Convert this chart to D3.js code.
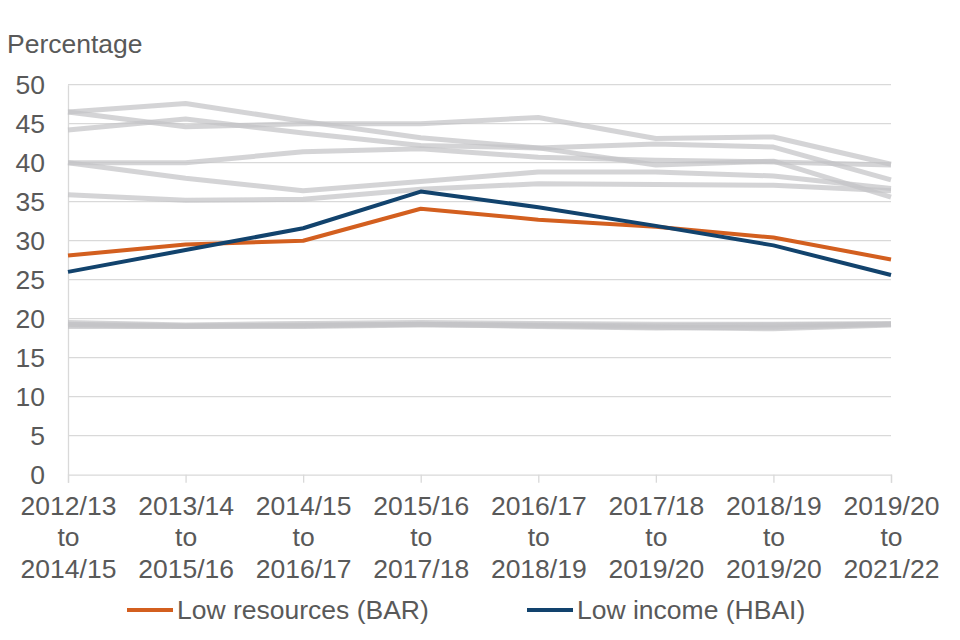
<!DOCTYPE html>
<html><head><meta charset="utf-8">
<script src="https://cdn.jsdelivr.net/npm/d3@7"></script>
<style>body{margin:0;background:#fff}svg{display:block}text{font-family:"Liberation Sans",Arial,sans-serif}</style>
</head><body><svg id="c" width="960" height="640"></svg>
<script>
const categories = [
  ["2012/13","to","2014/15"],["2013/14","to","2015/16"],["2014/15","to","2016/17"],
  ["2015/16","to","2017/18"],["2016/17","to","2018/19"],["2017/18","to","2019/20"],
  ["2018/19","to","2019/20"],["2019/20","to","2021/22"]];
const bar  = [28.1, 29.5, 30.0, 34.1, 32.7, 31.8, 30.4, 27.6];
const hbai = [26.0, 28.8, 31.6, 36.3, 34.3, 31.9, 29.4, 25.6];
const greyT = [46.5, 47.6, 45.3, 43.2, 41.9, 39.7, 40.2, 35.6];
const greyU = [46.5, 44.6, 45.0, 45.0, 45.8, 43.1, 43.3, 39.8];
const greyV = [44.2, 45.6, 43.8, 42.2, 41.9, 42.4, 42.0, 37.8];
const greyW = [40.0, 40.0, 41.4, 41.8, 40.7, 40.3, 40.1, 39.7];
const greyX = [40.0, 38.0, 36.4, 37.6, 38.8, 38.8, 38.3, 36.7];
const greyY = [35.9, 35.2, 35.3, 36.6, 37.3, 37.2, 37.1, 36.4];
const greyL1 = [19.5, 19.2, 19.4, 19.5, 19.4, 19.3, 19.3, 19.4];
const greyL2 = [19.3, 19.1, 19.1, 19.3, 19.2, 19.1, 19.2, 19.3];
const greyL3 = [19.0, 19.0, 19.0, 19.2, 19.1, 18.9, 18.7, 19.2];
const greyL4 = [19.2, 19.0, 19.2, 19.3, 19.0, 18.8, 18.9, 19.3];
const yTicks = [0,5,10,15,20,25,30,35,40,45,50];
const greySeries = [greyT, greyU, greyV, greyW, greyX, greyY, greyL1, greyL2, greyL3, greyL4];
const mainSeries = [
  {name:"Low resources (BAR)", values:bar, color:"#d35f1f"},
  {name:"Low income (HBAI)", values:hbai, color:"#12436d"}];

const svg = d3.select("#c");
const x = d3.scalePoint().domain(d3.range(categories.length)).range([68, 891]);
const y = d3.scaleLinear().domain([0, 50]).range([474.7, 84.7]);
const textCol = "#595959";
const fs = 26.5;

svg.append("g").selectAll("line").data(yTicks.filter(d=>d>0)).join("line")
  .attr("x1", 68).attr("x2", 891).attr("y1", d=>y(d)).attr("y2", d=>y(d))
  .attr("stroke", "#d9d9d9").attr("stroke-width", 1.3);

const yAxis = svg.append("g").attr("transform","translate(68,0)")
  .call(d3.axisLeft(y).tickValues(yTicks).tickSize(0).tickPadding(23));
yAxis.select(".domain").attr("stroke","#d9d9d9").attr("stroke-width",1.3);
yAxis.selectAll("text").attr("font-size", fs).attr("fill", textCol).attr("font-family","Liberation Sans, Arial, sans-serif");

const xAxis = svg.append("g").attr("transform","translate(0,474.7)")
  .call(d3.axisBottom(x).tickSize(8).tickFormat(""));
xAxis.select(".domain").attr("stroke","#d9d9d9").attr("stroke-width",1.3);
xAxis.selectAll(".tick line").attr("stroke","#d9d9d9").attr("stroke-width",1.3);
xAxis.selectAll(".tick").each(function(d){
  const t = d3.select(this).append("text").attr("fill", textCol).attr("font-size", fs)
    .attr("text-anchor","middle").attr("font-family","Liberation Sans, Arial, sans-serif");
  categories[d].forEach((s,i)=>t.append("tspan").attr("x",0).attr("y", 40 + i*31.5).text(s));
});

svg.append("text").attr("x", 7).attr("y", 53).attr("font-size", fs).attr("fill", textCol).text("Percentage");

const line = d3.line().x((d,i)=>x(i)).y(d=>y(d));
svg.append("g").selectAll("path").data(greySeries).join("path")
  .attr("d", line).attr("fill","none").attr("stroke","#c3c3c6").attr("stroke-opacity",0.72)
  .attr("stroke-width", 5).attr("stroke-linejoin","round");
svg.append("g").selectAll("path").data(mainSeries).join("path")
  .attr("d", d=>line(d.values)).attr("fill","none").attr("stroke", d=>d.color)
  .attr("stroke-width", 4).attr("stroke-linejoin","round");

const legX = [127, 527];
const leg = svg.append("g").selectAll("g").data(mainSeries).join("g")
  .attr("transform", (d,i)=>`translate(${legX[i]},610)`);
leg.append("line").attr("x1",0).attr("x2",46).attr("stroke", d=>d.color).attr("stroke-width",4);
leg.append("text").attr("x", 50).attr("y", 9).attr("font-size", fs).attr("fill", textCol).text(d=>d.name);
</script></body></html>
